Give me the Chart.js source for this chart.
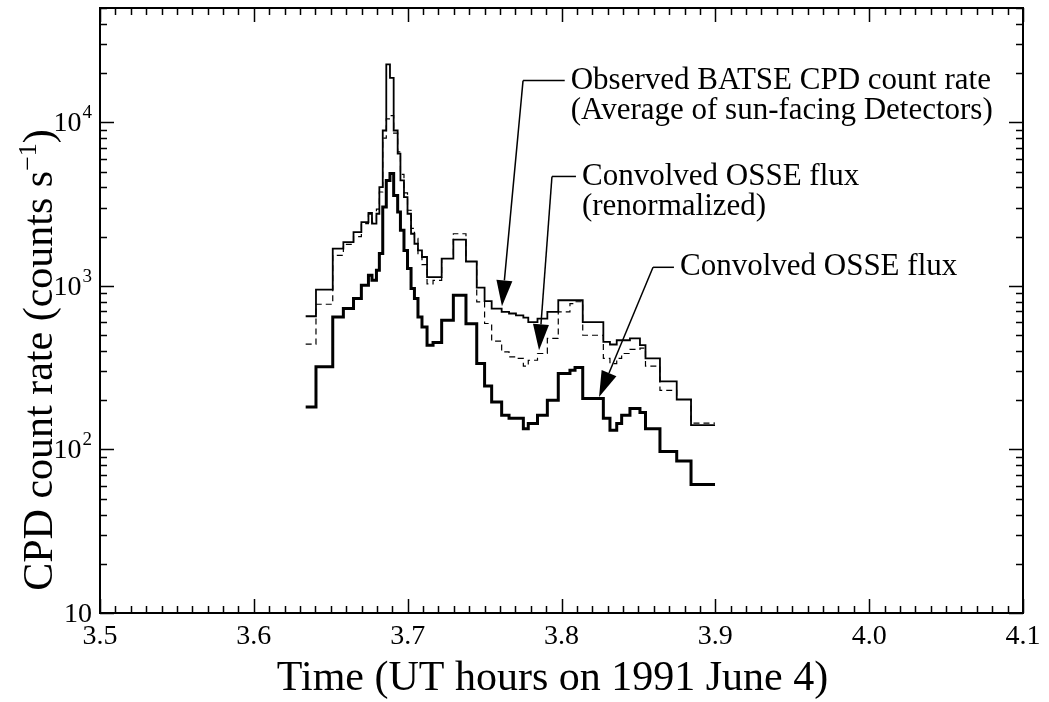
<!DOCTYPE html>
<html>
<head>
<meta charset="utf-8">
<script src="https://cdn.jsdelivr.net/npm/chart.js@4"></script>
<style>
  body { margin: 0; background: #fff; }
  canvas { display: block; }
</style>
</head>
<body>
<canvas id="cpdChart" width="1049" height="702"></canvas>
<script>
// Bin edges (UT hours); each rate holds from edge i to edge i+1
const binEdges = [
  3.6337, 3.6404, 3.6513, 3.6582, 3.6648, 3.6699, 3.6745, 3.6768, 3.6797, 3.6816,
  3.6838, 3.6861, 3.6885, 3.6909, 3.6935, 3.6953, 3.6976, 3.6999, 3.7022, 3.7044,
  3.7067, 3.7093, 3.7126, 3.7165, 3.7221, 3.7297, 3.7379, 3.7449, 3.7500, 3.7546,
  3.7611, 3.7659, 3.7704, 3.7752, 3.7784, 3.7844, 3.7908, 3.7979, 3.8055, 3.8088,
  3.8138, 3.8272, 3.8315, 3.8359, 3.8391, 3.8445, 3.8510, 3.8546, 3.8640, 3.8749,
  3.8842, 3.8998
];

// Observed BATSE CPD count rate (counts/s)
const batseRate = [
  652, 948, 1690, 1854, 2133, 2455, 2790, 2400, 2760, 4020,
  8910, 22600, 18700, 8910, 6430, 4415, 3490, 2760, 2083, 1810,
  1648, 1502, 1132, 1132, 1468, 1920, 1410, 975, 808, 727,
  693, 678, 661, 640, 601, 631, 693, 817, 817, 817,
  601, 454, 438, 465, 465, 477, 434, 360, 261, 202,
  141
];

// Convolved OSSE flux (renormalized), dashed
const osseRenorm = [
  440, 772, 1538, 1795, 2000, 2400, 2750, 2450, 2950, 3750,
  8000, 10500, 11000, 8600, 6600, 4800, 3700, 2900, 2250, 1950,
  1550, 1350, 1030, 1080, 1470, 2083, 1410, 798, 589, 460,
  395, 368, 360, 323, 351, 386, 477, 693, 780, 800,
  499, 360, 335, 360, 386, 409, 416, 323, 230, 202,
  145
];

// Convolved OSSE flux, thick
const osseRate = [
  182, 320, 646, 727, 836, 1009, 1160, 1082, 1245, 1575,
  3034, 4415, 4857, 3573, 2826, 2188, 1648, 1276, 964, 836,
  646, 561, 434, 450, 617, 877, 587, 335, 244, 195,
  162, 155, 155, 134, 144, 162, 200, 291, 305, 317,
  205, 155, 131, 144, 162, 178, 168, 134, 97, 85,
  61
];

const xTickLabels = ['3.5', '3.6', '3.7', '3.8', '3.9', '4.0', '4.1'];
const yDecades = [10, 100, 1000, 10000];

const SERIF = '"Liberation Serif", "DejaVu Serif", serif';

function stepPoints(rates) {
    return binEdges.map((t, i) => ({ x: t, y: rates[Math.min(i, rates.length - 1)] }));
}

// Annotations in data coordinates: arrow tip, elbow, text start
const notes = [
    { tip: [3.7613, 750], elbow: [3.7750, 18000], textX: 3.8060,
      lines: ['Observed BATSE CPD count rate', '(Average of sun-facing Detectors)'] },
    { tip: [3.7854, 404], elbow: [3.7938, 4667], textX: 3.8133,
      lines: ['Convolved OSSE flux', '(renormalized)'] },
    { tip: [3.8244, 209], elbow: [3.8595, 1299], textX: 3.8770,
      lines: ['Convolved OSSE flux'] }
];

function drawArrow(ctx, x0, y0, x1, y1) {
    const ang = Math.atan2(y1 - y0, x1 - x0);
    const len = 26, half = 8;
    const bx = x1 - len * Math.cos(ang), by = y1 - len * Math.sin(ang);
    ctx.beginPath();
    ctx.moveTo(x0, y0);
    ctx.lineTo(bx, by);
    ctx.stroke();
    ctx.beginPath();
    ctx.moveTo(x1, y1);
    ctx.lineTo(bx + half * Math.sin(ang), by - half * Math.cos(ang));
    ctx.lineTo(bx - half * Math.sin(ang), by + half * Math.cos(ang));
    ctx.closePath();
    ctx.fill();
}

// Frame, inward ticks, labels and notes
const framePlugin = {
    id: 'frame',
    afterDraw(chart) {
        const ctx = chart.ctx;
        const a = chart.chartArea;
        const xs = chart.scales.x, ys = chart.scales.y;
        ctx.save();
        ctx.strokeStyle = '#000';
        ctx.fillStyle = '#000';
        ctx.lineWidth = 2;
        ctx.strokeRect(a.left, a.top, a.right - a.left, a.bottom - a.top);

        // x ticks
        ctx.lineWidth = 1.5;
        for (let i = 0; i <= 60; i++) {
            const v = 3.5 + i * 0.01;
            const px = Math.round(xs.getPixelForValue(v)) + 0.5;
            const len = i % 10 === 0 ? 14 : 7;
            ctx.beginPath();
            ctx.moveTo(px, a.bottom); ctx.lineTo(px, a.bottom - len);
            ctx.moveTo(px, a.top); ctx.lineTo(px, a.top + len);
            ctx.stroke();
        }
        // y ticks
        for (const d of yDecades) {
            for (let m = 1; m <= 9; m++) {
                const v = d * m;
                if (v > ys.max) break;
                const py = Math.round(ys.getPixelForValue(v)) + 0.5;
                const len = m === 1 ? 14 : 7;
                ctx.beginPath();
                ctx.moveTo(a.left, py); ctx.lineTo(a.left + len, py);
                ctx.moveTo(a.right, py); ctx.lineTo(a.right - len, py);
                ctx.stroke();
            }
        }

        // x tick labels
        ctx.font = '28px ' + SERIF;
        ctx.textAlign = 'center';
        ctx.textBaseline = 'top';
        xTickLabels.forEach(s => {
            ctx.fillText(s, xs.getPixelForValue(parseFloat(s)), a.bottom + 10);
        });

        // y tick labels with superscript exponents
        ctx.textBaseline = 'alphabetic';
        yDecades.forEach(d => {
            const py = ys.getPixelForValue(d);
            const exp = Math.round(Math.log10(d));
            let right = a.left - 8;
            if (exp > 1) {
                ctx.font = '19px ' + SERIF;
                ctx.textAlign = 'right';
                ctx.fillText(String(exp), right, py - 4);
                right -= ctx.measureText(String(exp)).width + 1;
            }
            ctx.font = '28px ' + SERIF;
            ctx.textAlign = 'right';
            ctx.fillText('10', right, py + 9);
        });

        // axis titles
        ctx.font = '42px ' + SERIF;
        ctx.textAlign = 'center';
        ctx.textBaseline = 'alphabetic';
        ctx.fillText('Time (UT hours on 1991 June 4)', (a.left + a.right) / 2 - 9, 690);

        ctx.save();
        ctx.translate(52, 360);
        ctx.rotate(-Math.PI / 2);
        const main = 'CPD count rate (counts s';
        ctx.font = '42px ' + SERIF;
        const w1 = ctx.measureText(main).width;
        ctx.font = '26px ' + SERIF;
        const w2 = ctx.measureText('\u22121').width;
        ctx.font = '42px ' + SERIF;
        const w3 = ctx.measureText(')').width;
        let x0 = -(w1 + w2 + w3) / 2;
        ctx.textAlign = 'left';
        ctx.fillText(main, x0, 0);
        ctx.font = '26px ' + SERIF;
        ctx.fillText('\u22121', x0 + w1, -16);
        ctx.font = '42px ' + SERIF;
        ctx.fillText(')', x0 + w1 + w2, 0);
        ctx.restore();

        // annotations
        ctx.lineWidth = 1.5;
        ctx.font = '31px ' + SERIF;
        ctx.textAlign = 'left';
        ctx.textBaseline = 'middle';
        notes.forEach(n => {
            const tx = xs.getPixelForValue(n.tip[0]), ty = ys.getPixelForValue(n.tip[1]);
            const ex = xs.getPixelForValue(n.elbow[0]), ey = ys.getPixelForValue(n.elbow[1]);
            const sx = xs.getPixelForValue(n.textX);
            ctx.beginPath();
            ctx.moveTo(sx - 6, ey); ctx.lineTo(ex, ey);
            ctx.stroke();
            drawArrow(ctx, ex, ey, tx, ty);
            n.lines.forEach((s, i) => ctx.fillText(s, sx, ey + i * 30));
        });
        ctx.restore();
    }
};

const ctx = document.getElementById('cpdChart').getContext('2d');
new Chart(ctx, {
    type: 'line',
    data: {
        datasets: [
            {
                label: 'Convolved OSSE flux (renormalized)',
                data: stepPoints(osseRenorm),
                borderColor: '#000',
                borderWidth: 1.2,
                borderDash: [6, 4],
                stepped: 'before',
                pointRadius: 0,
                fill: false,
            },
            {
                label: 'Observed BATSE CPD count rate',
                data: stepPoints(batseRate),
                borderColor: '#000',
                borderWidth: 1.8,
                stepped: 'before',
                pointRadius: 0,
                fill: false,
            },
            {
                label: 'Convolved OSSE flux',
                data: stepPoints(osseRate),
                borderColor: '#000',
                borderWidth: 3,
                stepped: 'before',
                pointRadius: 0,
                fill: false,
            },
        ],
    },
    options: {
        responsive: false,
        animation: false,
        layout: { padding: { left: 100, right: 26, top: 8, bottom: 89 } },
        plugins: {
            legend: { display: false },
            tooltip: { enabled: false },
        },
        scales: {
            x: { type: 'linear', min: 3.5, max: 4.1, display: false },
            y: { type: 'logarithmic', min: 10, max: 50000, display: false },
        },
    },
    plugins: [framePlugin],
});
</script>
</body>
</html>
